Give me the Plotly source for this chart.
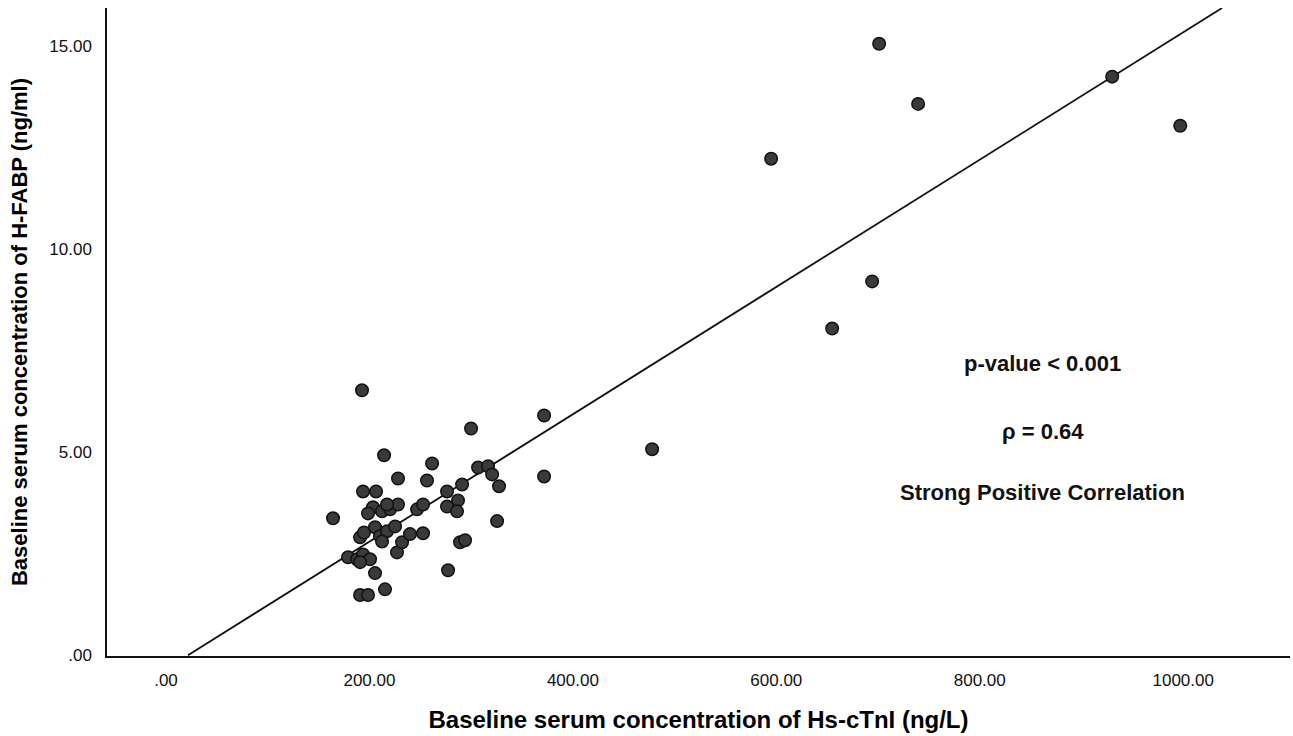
import plotly.graph_objects as go

# Baseline serum concentration of Hs-cTnI (ng/L)
hs_ctni = [701.1, 930.2, 739.4, 997.1, 594.9, 694.2, 654.9, 477.9, 371.7, 371.7,
           192.7, 299.9, 214.4, 261.6, 228.1, 256.6, 193.7, 206.5, 164.2, 325.5,
           327.4, 306.8, 316.6, 320.6, 291.1, 276.3, 287.1, 276.3, 286.1, 203.5,
           212.4, 220.3, 228.1, 217.3, 246.8, 252.7, 190.8, 194.7, 205.5, 210.4,
           217.3, 225.2, 212.4, 227.1, 232.1, 239.9, 252.7, 289.1, 294.0, 179.0,
           187.8, 193.7, 200.6, 190.8, 205.5, 277.3, 215.3, 190.8, 198.6, 198.6]
# Baseline serum concentration of H-FABP (ng/ml)
h_fabp = [15.05, 14.24, 13.57, 13.03, 12.22, 9.20, 8.04, 5.07, 5.90, 4.40,
          6.52, 5.58, 4.92, 4.72, 4.35, 4.30, 4.03, 4.03, 3.37, 3.30,
          4.16, 4.62, 4.65, 4.45, 4.20, 4.03, 3.81, 3.66, 3.54, 3.64,
          3.54, 3.59, 3.71, 3.71, 3.59, 3.71, 2.90, 3.02, 3.15, 2.93,
          3.05, 3.17, 2.80, 2.53, 2.78, 2.98, 3.00, 2.78, 2.83, 2.41,
          2.36, 2.48, 2.36, 2.29, 2.02, 2.09, 1.62, 1.48, 1.48, 3.49]

# Fit line (as drawn)
fit_slope = 0.01567
fit_intercept = -0.3385

x_ticks = [0, 200, 400, 600, 800, 1000]
x_tick_labels = [".00", "200.00", "400.00", "600.00", "800.00", "1000.00"]
y_ticks = [0, 5, 10, 15]
y_tick_labels = [".00", "5.00", "10.00", "15.00"]

stats_lines = ["p-value < 0.001", "ρ = 0.64", "Strong Positive Correlation"]
stats_y = [7.18, 5.51, 4.01]
stats_x = 862

x_range = [-58, 1105]
y_range = [-0.02, 15.93]

FONT = "Liberation Sans, Arial, sans-serif"

fig = go.Figure()

# regression line clipped to the plot area (y from 0 to top)
x_line_start = (0 - fit_intercept) / fit_slope
x_line_end = (y_range[1] - fit_intercept) / fit_slope
fig.add_trace(go.Scatter(
    x=[x_line_start, x_line_end],
    y=[fit_slope * x_line_start + fit_intercept, fit_slope * x_line_end + fit_intercept],
    mode="lines", line=dict(color="#111111", width=1.8),
    hoverinfo="skip", showlegend=False))

fig.add_trace(go.Scatter(
    x=hs_ctni, y=h_fabp, mode="markers",
    marker=dict(size=12.5, color="#3a3a3a", line=dict(color="#111111", width=1.5)),
    showlegend=False))

fig.update_layout(
    width=1293, height=736,
    margin=dict(l=107, r=3, t=8, b=80, autoexpand=False),
    paper_bgcolor="white", plot_bgcolor="white",
    font=dict(family=FONT, color="black"),
    xaxis=dict(
        range=x_range, tickvals=x_ticks, ticktext=x_tick_labels, automargin=False,
        showgrid=False, zeroline=False, showline=True, linecolor="#111111", linewidth=1.5,
        ticks="", ticklabelstandoff=8, tickfont=dict(size=17, family=FONT, color="#111111"),
        title=dict(text="<b>Baseline serum concentration of Hs-cTnI (ng/L)</b>",
                   font=dict(size=24, family=FONT), standoff=22),
    ),
    yaxis=dict(
        range=y_range, tickvals=y_ticks, ticktext=y_tick_labels, automargin=False,
        showgrid=False, zeroline=False, showline=True, linecolor="#111111", linewidth=1.5,
        ticks="", ticklabelstandoff=10, tickfont=dict(size=17, family=FONT, color="#111111"),
        title=dict(text="<b>Baseline serum concentration of H-FABP (ng/ml)</b>",
                   font=dict(size=22, family=FONT), standoff=16),
    ),
)

for txt, yy in zip(stats_lines, stats_y):
    fig.add_annotation(x=stats_x, y=yy, xref="x", yref="y", text="<b>" + txt + "</b>",
                       showarrow=False, font=dict(size=22, family=FONT, color="#111111"))

fig.write_html("out.html",
               config={"displayModeBar": False},
               post_script="document.body.style.margin='0';document.body.style.overflow='hidden';")
